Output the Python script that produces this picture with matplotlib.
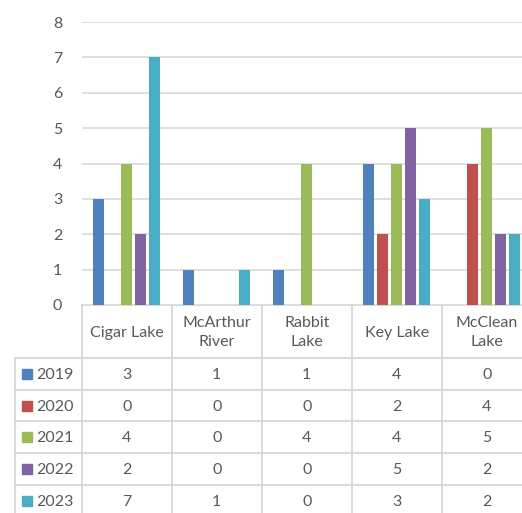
import matplotlib
matplotlib.use("Agg")
import matplotlib.pyplot as plt
from matplotlib.patches import Rectangle
import numpy as np

plt.rcParams['font.family'] = ['Lato', 'DejaVu Sans']

categories = ["Cigar Lake", "McArthur\nRiver", "Rabbit\nLake", "Key Lake", "McClean\nLake"]
years = ["2019", "2020", "2021", "2022", "2023"]
v2019 = [3, 1, 1, 4, 0]
v2020 = [0, 0, 0, 2, 4]
v2021 = [4, 0, 4, 4, 5]
v2022 = [2, 0, 0, 5, 2]
v2023 = [7, 1, 0, 3, 2]
series = [v2019, v2020, v2021, v2022, v2023]
colors = ["#4F81BD", "#C0504D", "#9BBB59", "#8064A2", "#4BACC6"]

W, H = 522, 513
TXT = "#595959"
GRID = "#D9D9D9"
FS = 11.5

fig = plt.figure(figsize=(W / 100, H / 100), dpi=100)

# plot area (pixel geometry converted to figure fractions)
left_px, right_px, top_px, base_px = 81.7, 531.7, 22.0, 305.0
ax = fig.add_axes([left_px / W, (H - base_px) / H,
                   (right_px - left_px) / W, (base_px - top_px) / H])
x = np.arange(len(categories))
slot, bw = 0.156, 0.122
for i, (vals, c) in enumerate(zip(series, colors)):
    ax.bar(x + (i - 2) * slot, vals, width=bw, color=c, zorder=3)
ax.set_xlim(-0.5, len(categories) - 0.5)
ax.set_ylim(0, 8)
ax.set_yticks(range(0, 9))
ax.yaxis.grid(True, color=GRID, linewidth=1.2, zorder=0)
ax.tick_params(axis='y', length=0, pad=14, labelcolor=TXT, labelsize=FS)
ax.set_xticks([])
for s in ax.spines.values():
    s.set_visible(False)

# data table beneath the plot area, drawn in pixel coordinates
tb = fig.add_axes([0, 0, 1, 1], zorder=-1)
tb.set_xlim(0, W)
tb.set_ylim(H, 0)
tb.axis('off')
tb.patch.set_alpha(0)

col_w = (right_px - left_px) / len(categories)
col_edges = [left_px + k * col_w for k in range(len(categories) + 1)]
header_bottom = 358.0
row_h = 31.7
row_edges = [header_bottom + k * row_h for k in range(len(years) + 1)]
label_left = 15.0
lw = 1.4

# header row
tb.plot([left_px, W + 20], [base_px, base_px], color=GRID, lw=lw)
for xe in col_edges:
    tb.plot([xe, xe], [base_px, row_edges[-1]], color=GRID, lw=lw)
for ye in row_edges:
    tb.plot([label_left, W + 20], [ye, ye], color=GRID, lw=lw)
tb.plot([label_left, label_left], [header_bottom, row_edges[-1]], color=GRID, lw=lw)

for j, cat in enumerate(categories):
    cx = (col_edges[j] + col_edges[j + 1]) / 2
    tb.text(cx, (base_px + header_bottom) / 2 + 1, cat, ha='center', va='center',
            fontsize=FS, color=TXT, linespacing=1.45)

for i, (yr, vals, c) in enumerate(zip(years, series, colors)):
    cy = (row_edges[i] + row_edges[i + 1]) / 2
    tb.add_patch(Rectangle((22, cy - 5), 10, 10, color=c))
    tb.text(36, cy + 1, yr, ha='left', va='center', fontsize=FS, color=TXT)
    for j, v in enumerate(vals):
        cx = (col_edges[j] + col_edges[j + 1]) / 2
        tb.text(cx, cy + 1, str(v), ha='center', va='center', fontsize=FS, color=TXT)

fig.savefig("out.png", dpi=100, facecolor="white")
